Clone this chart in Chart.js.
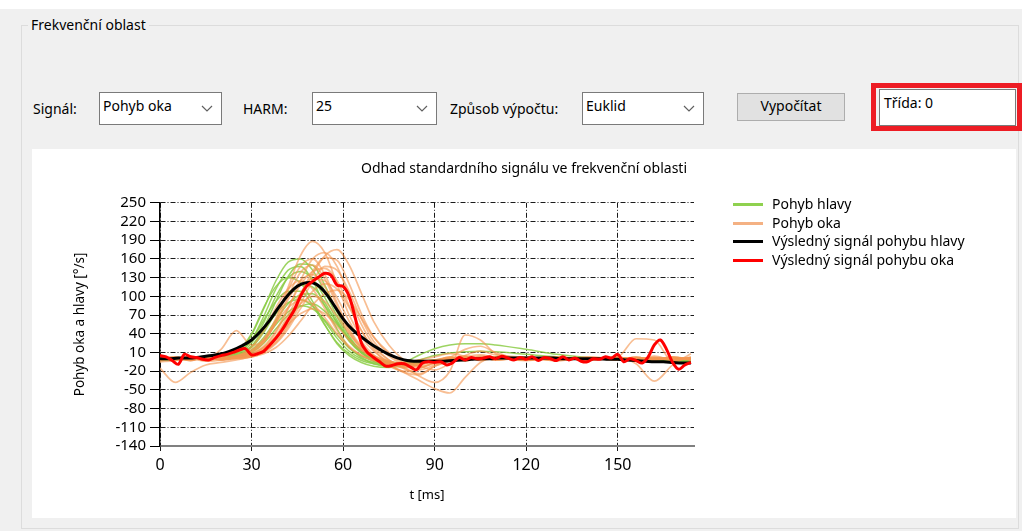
<!DOCTYPE html>
<html lang="cs">
<head>
<meta charset="UTF-8">
<title>Frekvenční oblast</title>
<script src="https://cdn.jsdelivr.net/npm/chart.js"></script>
<style>
  html, body { margin: 0; padding: 0; }
  body {
    width: 1022px; height: 531px; position: relative; overflow: hidden;
    background: #f0f0f0; font-family: "Noto Sans", sans-serif; color: #000;
  }
  .strip { position: absolute; left: 0; top: 0; width: 1022px; height: 9px; background: #fff; }
  .group {
    position: absolute; left: 21px; top: 25px; width: 998px; height: 504px;
    border: 1px solid #dcdcdc; box-sizing: border-box;
  }
  .group-title {
    position: absolute; left: 28px; top: 16px; padding: 0 3px;
    background: #f0f0f0; font-size: 14px; line-height: 18px;
  }
  .lbl { position: absolute; top: 100px; font-size: 14px; line-height: 18px; }
  .combo {
    position: absolute; top: 92px; height: 33px; background: #fff;
    border: 1px solid #7a7a7a; box-sizing: border-box; font-size: 14px;
  }
  .combo span { position: absolute; left: 3px; top: 4px; line-height: 18px; }
  .combo svg { position: absolute; right: 8px; top: 12px; }
  .btn {
    position: absolute; left: 737px; top: 93px; width: 108px; height: 28px;
    background: #e1e1e1; border: 1px solid #adadad; box-sizing: border-box;
    font-size: 14px; line-height: 24px; text-align: center;
  }
  .redbox {
    position: absolute; left: 871px; top: 83px; width: 151px; height: 48px;
    border: 5px solid #ed1c24; box-sizing: border-box;
  }
  .tbox {
    position: absolute; left: 879px; top: 89px; width: 137px; height: 37px;
    background: #fff; border: 1px solid #7a7a7a; box-sizing: border-box; font-size: 14px;
  }
  .tbox span { position: absolute; left: 4px; top: 4px; line-height: 18px; }
  .chartbox { position: absolute; left: 32px; top: 149px; width: 984px; height: 369px; background: #fff; }
  .legend { position: absolute; left: 733px; top: 195px; font-size: 14px; }
  .legend div { position: relative; height: 18.7px; line-height: 18px; padding-left: 39px; white-space: nowrap; }
  .legend i { position: absolute; left: 0; top: 8px; width: 30px; height: 3px; }
</style>
</head>
<body>
<div class="strip"></div>
<div class="group"></div>
<div class="group-title">Frekvenční oblast</div>

<div class="lbl" style="left:33px">Signál:</div>
<div class="combo" style="left:99px;width:123px"><span>Pohyb oka</span>
  <svg width="12" height="8"><polyline points="1,1 6,6 11,1" fill="none" stroke="#606060" stroke-width="1.2"/></svg></div>
<div class="lbl" style="left:243px">HARM:</div>
<div class="combo" style="left:312px;width:125px"><span>25</span>
  <svg width="12" height="8"><polyline points="1,1 6,6 11,1" fill="none" stroke="#606060" stroke-width="1.2"/></svg></div>
<div class="lbl" style="left:450px">Způsob výpočtu:</div>
<div class="combo" style="left:582px;width:122px"><span>Euklid</span>
  <svg width="12" height="8"><polyline points="1,1 6,6 11,1" fill="none" stroke="#606060" stroke-width="1.2"/></svg></div>
<div class="btn">Vypočítat</div>
<div class="redbox"></div>
<div class="tbox"><span>Třída: 0</span></div>

<div class="chartbox"><canvas id="graf"></canvas></div>
<div class="legend" id="legenda"></div>

<script>
// casova osa pro jednotlive zaznamy (ms)
const thinT = [0, 5, 10, 15, 20, 25, 30, 34, 38, 42, 46, 50, 54, 58, 62, 66, 70, 75, 80, 85, 90, 95, 100, 105, 110, 120, 130, 140, 150, 156, 162, 168, 174];

// pohyb hlavy - jednotlive zaznamy (°/s)
const headRuns = [
  [0, 0, 0, -1, 1, 8, 38, 80, 125, 155, 160, 142, 108, 68, 32, 10, -4, -10, -10, -7, -4, -2, -1, 0, 0, 0, 0, 0, 0, -1, -2, -3, -4],
  [1, 0, 0, 0, 1, 5, 25, 58, 100, 130, 140, 128, 98, 62, 30, 10, -2, -8, -9, -7, -4, -2, -1, 0, 0, 1, 0, 0, -1, -1, -2, -3, -4],
  [0, -1, 0, 0, 1, 4, 18, 42, 75, 104, 118, 115, 90, 58, 28, 9, -2, -7, -8, -6, -3, -1, 0, 1, 1, 0, 0, 0, 0, -1, -2, -3, -4],
  [-2, -1, -1, 0, 0, 3, 14, 34, 62, 88, 102, 104, 85, 58, 30, 11, 0, -6, -8, -6, -3, -1, 0, 0, 0, 0, 0, 0, -1, -2, -3, -4, -5],
  [-3, -2, -1, -1, 0, 2, 10, 25, 48, 70, 84, 88, 76, 55, 32, 14, 2, -5, -7, -6, -3, -1, 0, 1, 0, 0, 0, -1, -1, -2, -3, -4, -5],
  [0, 0, 0, 0, 1, 6, 30, 68, 112, 142, 148, 125, 85, 48, 18, 2, -8, -12, -6, 6, 16, 22, 24, 24, 22, 15, 7, 2, 0, -1, -1, -2, -3],
  [0, -1, -1, 0, 2, 10, 40, 82, 116, 130, 122, 92, 55, 24, 5, -6, -12, -14, -10, -2, 5, 9, 11, 12, 11, 7, 3, 0, 0, -1, -2, -3, -4],
  [1, 0, 0, 0, 1, 3, 12, 30, 55, 75, 85, 80, 62, 38, 17, 4, -4, -9, -10, -7, -4, -2, -1, 0, 0, 0, 0, 0, 0, -1, -2, -3, -4],
  [0, 0, 0, 0, 1, 4, 20, 50, 92, 132, 152, 150, 118, 75, 36, 12, -1, -7, -7, -4, -2, -1, 0, 0, 0, 0, 0, 0, 0, -1, -2, -3, -4],
  [-1, -1, 0, 0, 2, 8, 30, 62, 92, 108, 108, 86, 54, 26, 8, -3, -8, -10, -8, -5, -3, -1, 0, 0, 0, 0, 0, 0, -1, -1, -2, -3, -4],
  [0, 0, 1, 0, 1, 5, 20, 45, 72, 90, 95, 84, 60, 33, 12, 0, -6, -9, -8, -5, -3, -1, 0, 0, 0, 0, 0, 0, -1, -2, -2, -3, -4]
];

// pohyb oka - jednotlive zaznamy (°/s)
const eyeRuns = [
  [3, -2, 4, -3, 2, 5, 12, 30, 65, 115, 165, 188, 170, 120, 70, 35, 12, -5, -12, -8, -4, 2, -3, 4, 1, -2, 3, -1, 2, -3, 4, -2, 1],
  [-2, 2, -3, 3, -1, 2, 6, 14, 32, 62, 102, 140, 162, 158, 120, 72, 35, 8, -8, -14, -6, 3, -4, 2, -2, 3, -3, 1, -2, 2, -1, 3, -2],
  [-5, -3, 0, -4, -2, 1, 8, 18, 35, 55, 72, 80, 72, 52, 30, 14, 4, -4, -10, -6, -2, 1, -1, 3, -2, 1, -3, 2, 0, -3, 1, -2, 2],
  [-15, -38, -22, -10, -6, -2, 4, 14, 36, 70, 105, 128, 125, 98, 60, 28, 6, -10, -22, -26, -12, -4, 2, -3, 1, -2, 2, -1, 1, -2, 2, -1, 0],
  [2, -1, 3, 0, 15, 45, 22, 28, 58, 100, 138, 150, 128, 85, 45, 18, 2, -8, -15, -10, -5, -2, 1, -1, 2, 0, -2, 1, -1, 2, -1, 1, -1],
  [0, 3, -2, 2, -1, 1, 3, 10, 24, 48, 80, 108, 120, 112, 82, 45, 15, -8, -22, -35, -48, -55, -30, -6, 3, -2, 1, -1, 2, -1, 1, -2, 1],
  [1, -2, 2, -1, 1, 3, 8, 20, 45, 82, 118, 140, 145, 125, 85, 45, 18, -2, -14, -28, -38, -20, 38, 30, 8, -3, 2, -1, 1, -2, 1, 0, -1],
  [-1, 1, -2, 2, 0, 2, 5, 12, 28, 55, 95, 135, 165, 175, 150, 105, 60, 22, -2, -12, -18, -8, 5, 12, 6, 2, -1, 1, -2, 1, -1, 2, -1],
  [2, 0, -2, 1, -1, 2, 6, 16, 36, 64, 88, 100, 92, 68, 40, 18, 5, -4, -8, -5, -2, 2, -1, 1, -2, 2, -1, 1, 3, 32, 30, -4, 2],
  [0, 2, -1, 3, -2, 4, 12, 28, 58, 95, 125, 135, 115, 78, 42, 15, 0, -10, -6, -2, 3, 8, 4, -2, 3, -1, 2, -2, 1, -8, -36, -10, 8],
  [-3, 0, 2, -2, 1, 3, 10, 26, 62, 110, 148, 160, 135, 90, 48, 20, 4, -6, -12, -9, -3, 1, 4, -2, 1, -1, 2, -2, 0, 2, -1, 1, -2],
  [1, -1, 0, -2, 2, 0, 3, 8, 18, 36, 60, 86, 104, 110, 95, 65, 35, 10, -6, -12, -8, 2, 15, 20, 10, -2, 1, -1, 2, -1, 0, 2, -1],
  [4, 1, -3, 2, -1, 3, 14, 32, 58, 82, 94, 88, 66, 40, 18, 5, -3, -12, -20, -16, -6, -1, 2, -2, 3, 1, -2, 3, -1, 1, -2, 2, 0],
  [0, 2, -1, 1, -2, 1, 4, 11, 26, 52, 88, 124, 148, 142, 108, 64, 28, 4, -10, -18, -10, -2, 3, 6, 2, -1, 1, -2, 2, -1, 1, -1, 2],
  [-2, 1, -1, 2, 0, 4, 18, 45, 82, 112, 125, 112, 80, 45, 20, 6, -2, -8, -14, -9, -3, 0, 2, -1, 1, -2, 1, 0, -1, 2, -2, 1, 0],
  [1, -1, 2, -2, 1, 2, 7, 18, 42, 80, 125, 160, 170, 148, 100, 55, 22, -2, -16, -24, -12, -3, 1, -2, 2, 0, -1, 1, -2, 1, 0, -2, 1]
];

// vysledny signal pohybu hlavy
const headResT = [0, 3, 6, 9, 12, 15, 18, 21, 24, 27, 30, 33, 36, 39, 42, 45, 48, 51, 54, 57, 60, 63, 66, 69, 72, 75, 78, 81, 84, 87, 90, 93, 96, 99, 102, 105, 108, 111, 114, 117, 120, 123, 126, 129, 132, 135, 138, 141, 144, 147, 150, 153, 156, 159, 162, 165, 168, 171, 174];
const headRes = [0, 0, 1, 1, 2, 4, 6, 9, 14, 21, 30, 44, 62, 83, 102, 116, 122, 120, 107, 86, 64, 47, 35, 24, 15, 7, 1, -3, -4, -4, -4, -4, -3, -2, -1, 0, 0, 1, 1, 1, 1, 1, 1, 1, 0, 0, 0, 0, 0, -1, -1, -2, -3, -4, -5, -5, -6, -7, -7];

// vysledny signal pohybu oka
const eyeResT = [0, 2, 4, 6, 8, 10, 12, 14, 16, 18, 20, 22, 24, 26, 28, 30, 32, 34, 36, 38, 40, 42, 44, 46, 48, 50, 52, 54, 56, 58, 60, 62, 64, 66, 68, 70, 72, 74, 76, 78, 80, 82, 84, 86, 88, 90, 92, 94, 96, 98, 100, 102, 104, 106, 108, 110, 112, 114, 116, 118, 120, 122, 124, 126, 128, 130, 132, 134, 136, 138, 140, 142, 144, 146, 148, 150, 152, 154, 156, 158, 160, 162, 164, 166, 168, 170, 172, 174];
const eyeRes = [5, 3, -3, -9, 7, 3, 2, -1, -2, 2, 5, 7, 10, 14, 16, 6, 8, 12, 22, 33, 46, 62, 78, 100, 116, 124, 131, 137, 134, 118, 116, 100, 65, 25, 10, 2, -5, -12, -11, -8, -8, -13, -18, -7, -5, -6, -5, -10, -6, 2, -2, 2, 0, 1, 3, 0, 4, 1, -2, 2, -1, 3, -3, 2, 0, -3, 3, -2, 1, -4, -5, 0, -1, 3, 1, 7, -5, 0, -3, -7, 3, 22, 30, 15, -6, -17, -10, -6];

const xTicks = [0, 30, 60, 90, 120, 150];
const yTicks = [-140, -110, -80, -50, -20, 10, 40, 70, 100, 130, 160, 190, 220, 250];

const seriesNames = ['Pohyb hlavy', 'Pohyb oka', 'Výsledný signál pohybu hlavy', 'Výsledný signál pohybu oka'];
const seriesColors = ['#8fd14f', '#f4b183', '#000000', '#ff0000'];

function toPoints(ts, vals) {
  return ts.map((t, i) => ({ x: t, y: vals[i] }));
}

const datasets = [];
datasets.push({
  label: seriesNames[3], data: toPoints(eyeResT, eyeRes), yAxisID: 'y',
  borderColor: '#ff0000', borderWidth: 3, tension: 0.3, order: 1
});
datasets.push({
  label: seriesNames[2], data: toPoints(headResT, headRes), yAxisID: 'y',
  borderColor: '#000000', borderWidth: 3, tension: 0.4, order: 2
});
eyeRuns.forEach(run => datasets.push({
  label: seriesNames[1], data: toPoints(thinT, run), yAxisID: 'y',
  borderColor: 'rgba(243,150,80,0.62)', borderWidth: 1.7, cubicInterpolationMode: 'monotone', order: 3
}));
headRuns.forEach(run => datasets.push({
  label: seriesNames[0], data: toPoints(thinT, run), yAxisID: 'y',
  borderColor: 'rgba(140,205,70,0.85)', borderWidth: 1.5, cubicInterpolationMode: 'monotone', order: 4
}));

const gridDash = [5, 2, 1, 2];

new Chart(document.getElementById('graf'), {
  type: 'line',
  data: { datasets: datasets },
  options: {
    responsive: true,
    maintainAspectRatio: false,
    animation: false,
    events: [],
    elements: { point: { radius: 0 } },
    layout: { padding: 0 },
    plugins: {
      legend: { display: false },
      tooltip: { enabled: false },
      title: {
        display: true,
        text: 'Odhad standardního signálu ve frekvenční oblasti',
        color: '#000',
        font: { family: 'Noto Sans', size: 14, weight: 'normal', lineHeight: 1.2 },
        padding: { top: 12, bottom: 25 }
      }
    },
    scales: {
      x: {
        type: 'linear', min: 0, max: 175,
        afterBuildTicks: s => { s.ticks = xTicks.map(v => ({ value: v })); },
        afterFit: s => { s.height = 72; },
        ticks: { color: '#000', padding: 5, font: { family: 'Noto Sans', size: 16 } },
        grid: { color: '#1a1a1a', lineWidth: 1, tickLength: 5, tickColor: '#1a1a1a' },
        border: { display: true, color: '#808080', width: 2, dash: gridDash },
        title: {
          display: true, text: 't [ms]', color: '#000',
          font: { family: 'Noto Sans', size: 13, lineHeight: 1.2 },
          padding: { top: 0, bottom: 15 }
        }
      },
      y: {
        type: 'linear', position: 'left', min: -140, max: 250,
        afterBuildTicks: s => { s.ticks = yTicks.map(v => ({ value: v })); },
        afterFit: s => { s.width = 128; },
        ticks: { color: '#000', padding: 4, autoSkip: false, font: { family: 'Noto Sans', size: 15 } },
        grid: { color: '#1a1a1a', lineWidth: 1, tickLength: 10, tickColor: '#000' },
        border: { display: true, color: '#000', width: 1.5, dash: gridDash },
        title: {
          display: true, text: 'Pohyb oka a hlavy [°/s]', color: '#000',
          font: { family: 'Noto Sans', size: 13.5, lineHeight: 1.2 },
          padding: { top: 40, bottom: 0 }
        }
      },
      y2: {
        type: 'linear', position: 'right', display: true,
        afterFit: s => { s.width = 322; },
        ticks: { display: false },
        grid: { display: false, drawTicks: false },
        border: { display: false }
      }
    }
  }
});

// legenda vpravo
const legenda = document.getElementById('legenda');
seriesNames.forEach((name, i) => {
  const row = document.createElement('div');
  const sw = document.createElement('i');
  sw.style.background = seriesColors[i];
  row.appendChild(sw);
  row.appendChild(document.createTextNode(name));
  legenda.appendChild(row);
});
</script>
</body>
</html>
